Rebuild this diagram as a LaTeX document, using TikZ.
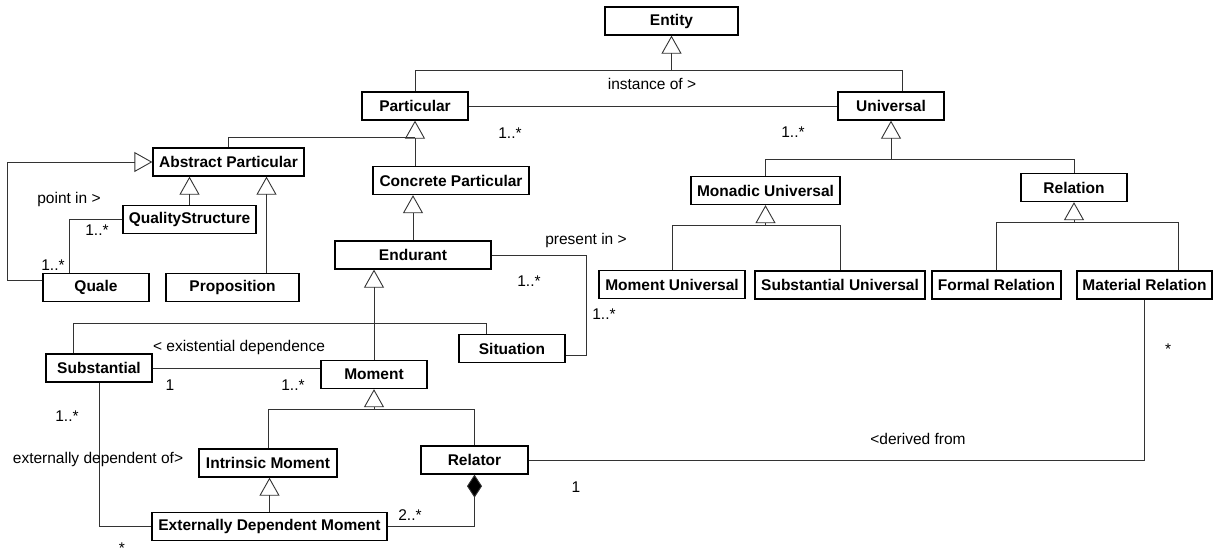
\documentclass[tikz,border=0pt]{standalone}
\usepackage{fontspec}
\setmainfont{Liberation Sans}
\usetikzlibrary{arrows.meta,positioning}
\tikzset{classbox/.style={draw=black,text=black,line width=1.3pt,fill=white,
		font=\fontsize{15.5}{18}\selectfont\bfseries,minimum height=28pt,inner sep=0pt},
	genarrow/.style={-{Triangle[open,width=20pt,length=18pt]}},
	partof/.style={-{Diamond[width=15pt,length=23pt,fill=black]}},
	lbl/.style={text=black,font=\fontsize{15.5}{18}\selectfont,inner sep=0pt}}

\begin{document}
\begin{tikzpicture}[x=1pt,y=-1pt,line width=0.9pt,color=black!80]
	\useasboundingbox (0,0) rectangle (1215,555);
	% classes
	\node[classbox,minimum width=133pt] (entity) at (671.5,21) {Entity};
	\node[classbox,minimum width=106pt] (particular) at (415,106) {Particular};
	\node[classbox,minimum width=106pt] (universal) at (891,106) {Universal};
	\node[classbox,minimum width=151pt] (abstract) at (228.5,162) {Abstract Particular};
	\node[classbox,minimum width=156pt] (concrete) at (451,180.5) {Concrete Particular};
	\node[classbox,minimum width=133pt] (quality) at (189.5,219.5) {QualityStructure};
	\node[classbox,minimum width=149pt] (monadic) at (765.5,190.5) {Monadic Universal};
	\node[classbox,minimum width=106pt] (relation) at (1074,187.5) {Relation};
	\node[classbox,minimum width=156pt] (endurant) at (413,255) {Endurant};
	\node[classbox,minimum width=106pt] (quale) at (96,287.5) {Quale};
	\node[classbox,minimum width=133pt] (proposition) at (232.5,287.5) {Proposition};
	\node[classbox,minimum width=146pt] (momuniv) at (672,284.5) {Moment Universal};
	\node[classbox,minimum width=170pt] (subuniv) at (840,285) {Substantial Universal};
	\node[classbox,minimum width=129pt] (formal) at (996.5,285) {Formal Relation};
	\node[classbox,minimum width=135pt] (material) at (1144.5,285) {Material Relation};
	\node[classbox,minimum width=106pt] (situation) at (512,348.5) {Situation};
	\node[classbox,minimum width=106pt] (substantial) at (99,368) {Substantial};
	\node[classbox,minimum width=106pt] (moment) at (374,374.5) {Moment};
	\node[classbox,minimum width=138pt] (intrinsic) at (268,463) {Intrinsic Moment};
	\node[classbox,minimum width=107pt] (relator) at (474.5,460) {Relator};
	\node[classbox,minimum width=235pt] (edm) at (269.5,526.5) {Externally Dependent Moment};

	% generalizations
	\draw[genarrow] ([yshift=-35pt]entity.south) -- (entity.south);
	\draw (particular.north) |- ([yshift=-35pt]entity.south);
	\draw ([xshift=11pt]universal.north) |- ([yshift=-35pt]entity.south);
	\draw[genarrow] (particular.south |- concrete.north) -- (particular.south);
	\draw (abstract.north) |- ([yshift=-17pt]particular.south);
	\draw[genarrow] (quality.north) -- (quality.north |- abstract.south);
	\coordinate (propup) at ([xshift=34pt]proposition.north);
	\draw[genarrow] (propup) -- (propup |- abstract.south);
	\draw[genarrow] ([yshift=7.5pt]quale.west) -- ++(-35,0) |- (abstract.west);
	\draw[genarrow] (endurant.north) -- (endurant.north |- concrete.south);
	\draw[genarrow] (moment.north) -- (moment.north |- endurant.south);
	\draw ([xshift=-26pt]substantial.north) -- ++(0,-30) -| ([xshift=-26pt]situation.north);
	\coordinate (mj) at ([yshift=-20pt]moment.south);
	\draw[genarrow] (mj) -- (moment.south);
	\draw (intrinsic.north) |- (mj) -| (relator.north);
	\draw[genarrow] (edm.north) -- (edm.north |- intrinsic.south);
	\coordinate (uj) at ([yshift=-39pt]universal.south);
	\draw[genarrow] (uj) -- (universal.south);
	\draw (monadic.north) |- (uj) -| (relation.north);
	\coordinate (mu) at ([yshift=-20pt]monadic.south);
	\draw[genarrow] (mu) -- (monadic.south);
	\draw (momuniv.north) |- (mu) -| (subuniv.north);
	\coordinate (rj) at ([yshift=-20pt]relation.south);
	\draw[genarrow] (rj) -- (relation.south);
	\draw (formal.north) |- (rj) -| ([xshift=33.5pt]material.north);

	% associations
	\draw (particular.east) -- (universal.west);
	\draw (quality.west) -| ([xshift=-27pt]quale.north);
	\draw (endurant.east) -- ++(95,0) |- ([yshift=-6.5pt]situation.east);
	\draw (substantial.east) -- (substantial.east -| moment.west);
	\draw (substantial.south) |- (edm.west);
	\draw[partof] (edm.east) -| (relator.south);
	\draw (relator.east) -| (material.south);

	% labels
	\node[lbl] (l1) at (652,84) {instance of >};
	\node[lbl] (l2) at (510,133) {1..*};
	\node[lbl] (l3) at (793,132) {1..*};
	\node[lbl] (l4) at (69,199) {point in >};
	\node[lbl] (l5) at (97,230) {1..*};
	\node[lbl] (l6) at (53,265) {1..*};
	\node[lbl] (l7) at (586,240) {present in >};
	\node[lbl] (l8) at (529,281) {1..*};
	\node[lbl] (l9) at (604,314) {1..*};
	\node[lbl] (l10) at (239,347) {< existential dependence};
	\node[lbl] (l11) at (170,385) {1};
	\node[lbl] (l12) at (293,385) {1..*};
	\node[lbl] (l13) at (67,416) {1..*};
	\node[lbl] (l14) at (98,459) {externally dependent of>};
	\node[lbl] (l15) at (122,548) {*};
	\node[lbl] (l16) at (410,515) {2..*};
	\node[lbl] (l17) at (918,439) {<derived from};
	\node[lbl] (l18) at (576,487) {1};
	\node[lbl] (l19) at (1168,349) {*};
\end{tikzpicture}
\end{document}
